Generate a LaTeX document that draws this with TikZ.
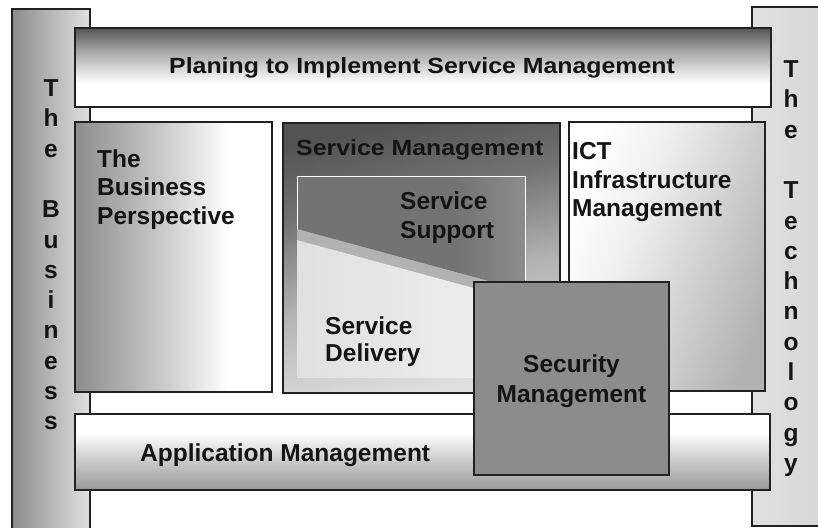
\documentclass[tikz,border=0pt]{standalone}
\usepackage{fontspec}
\setmainfont{Liberation Sans}
\newfontfamily\widefont{Liberation Sans}[FakeStretch=1.13]
\definecolor{lineC}{gray}{0.13}
\definecolor{txtC}{gray}{0.08}
\definecolor{gA}{gray}{0.33}
\definecolor{gB}{gray}{0.45}
\definecolor{gC}{gray}{0.55}
\definecolor{gCC}{gray}{0.60}
\definecolor{gD}{gray}{0.70}
\definecolor{gE}{gray}{0.80}
\definecolor{gR}{gray}{0.83}
\definecolor{gF}{gray}{0.88}
\definecolor{gG}{gray}{0.94}
\pgfdeclareverticalshading{topbarS}{100bp}{color(0bp)=(white); color(25bp)=(white); color(40bp)=(white); color(52bp)=(gE); color(63bp)=(gCC); color(75bp)=(gA); color(100bp)=(gA)}
\pgfdeclareverticalshading{appbarS}{100bp}{color(0bp)=(gCC); color(25bp)=(gCC); color(45bp)=(gE); color(63bp)=(white); color(75bp)=(white); color(100bp)=(white)}
\pgfdeclareverticalshading{smS}{100bp}{color(0bp)=(gF); color(25bp)=(gF); color(45bp)=(gD); color(62bp)=(gB); color(75bp)=(gA); color(100bp)=(gA)}
\pgfdeclarehorizontalshading{bizS}{100bp}{color(0bp)=(gC); color(25bp)=(gC); color(48bp)=(gE); color(64bp)=(white); color(100bp)=(white)}
\pgfdeclarehorizontalshading{ictS}{100bp}{color(0bp)=(white); color(25bp)=(white); color(40bp)=(gG); color(75bp)=(gD); color(100bp)=(gD)}
\pgfdeclarehorizontalshading{leftbarS}{100bp}{color(0bp)=(gC); color(25bp)=(gC); color(75bp)=(gF); color(100bp)=(gF)}
\pgfdeclarehorizontalshading{rightbarS}{100bp}{color(0bp)=(gF); color(25bp)=(gF); color(75bp)=(gR); color(100bp)=(gR)}
\pgfdeclarehorizontalshading{ssS}{100bp}{color(0bp)=(gB); color(25bp)=(gB); color(60bp)=(gB); color(75bp)=(gC); color(100bp)=(gC)}
\begin{document}
\begin{tikzpicture}[x=1pt,y=-1pt,
  box/.style={draw=lineC, line width=1.1pt},
  lbl/.style={font=\fontsize{24.5}{28.5}\selectfont\bfseries, text=txtC, inner sep=0pt, align=left},
  widelbl/.style={font=\widefont\fontsize{22}{26}\selectfont\bfseries, text=txtC, inner sep=0pt},
  vert/.style={font=\fontsize{24.5}{30.3}\selectfont\bfseries, text=txtC, inner sep=0pt, align=center}]
\clip (0,0) rectangle (818,527);
\fill[white] (0,0) rectangle (818,527);
% side bars
\shadedraw[box, shading=leftbarS] (12,9) rectangle (90,545);
\shadedraw[box, shading=rightbarS] (752,7) rectangle (840,526);
\node[vert, anchor=north] (business) at (51,79.5) {T\\h\\e\\[30.3pt]B\\u\\s\\i\\n\\e\\s\\s};
\node[vert, anchor=north] (technology) at (791,60.5) {T\\h\\e\\[30.3pt]T\\e\\c\\h\\n\\o\\l\\o\\g\\y};
% top and bottom bars
\shadedraw[box, shading=topbarS] (75,28) rectangle (771,107);
\node[widelbl, anchor=base west] (planning) at (169,73) {Planing to Implement Service Management};
\shadedraw[box, shading=appbarS] (75,414) rectangle (770,490);
\node[lbl, anchor=base west] (application) at (140,461) {Application Management};
% business perspective
\shadedraw[box, shading=bizS] (75,122) rectangle (272,392);
\node[lbl, anchor=north west] (perspective) at (97,149.5) {The\\Business\\Perspective};
% service management
\shadedraw[box, shading=smS, shading angle=12] (283,123) rectangle (560,393);
\node[widelbl, anchor=base west] (servmgmt) at (296,155) {Service Management};
\shade[shading=ssS] (297,176) -- (525,176) -- (525,291) -- (297,229) -- cycle;
\fill[gD] (297,229) -- (525,291) -- (525,302) -- (297,240) -- cycle;
\shade[left color=gF, right color=gG] (297,240) -- (525,302) -- (525,378) -- (297,378) -- cycle;
\draw[white, line width=0.9pt] (297,229) -- (297,176) -- (525,176) -- (525,302);
\node[lbl, anchor=north west] (support) at (400,192) {Service\\Support};
\node[lbl, anchor=north west, font=\fontsize{24.5}{27}\selectfont\bfseries] (delivery) at (325,317) {Service\\Delivery};
% ICT
\shadedraw[box, shading=ictS, shading angle=-20] (569,122) rectangle (765,391);
\node[lbl, anchor=north west] (ict) at (572,142.5) {ICT\\Infrastructure\\Management};
% security
\filldraw[box, fill=gC] (474,282) rectangle (669,475);
\node[lbl, anchor=north, align=center, font=\fontsize{24.5}{30}\selectfont\bfseries] (security) at (571.5,355) {Security\\Management};
\end{tikzpicture}
\end{document}
